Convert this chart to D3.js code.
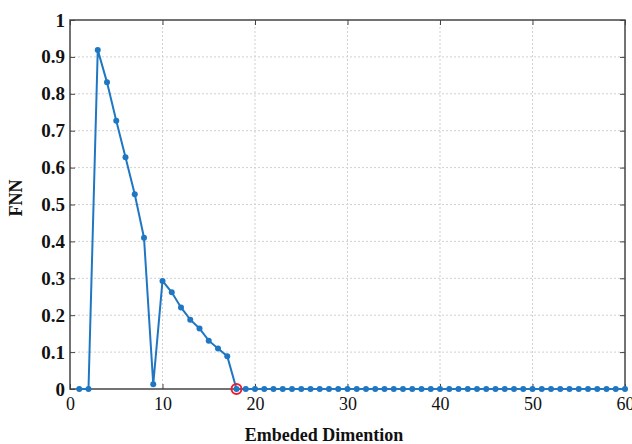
<!DOCTYPE html>
<html>
<head>
<meta charset="utf-8">
<script src="https://cdn.jsdelivr.net/npm/d3@7"></script>
<style>
  body { margin: 0; background: #fff; }
</style>
</head>
<body>
<div id="chart"></div>
<script>
// FNN values for embedding dimensions 1..60
let dims = d3.range(1, 61)
let fnnHead = [0, 0, 0.919, 0.831, 0.727, 0.628, 0.528, 0.41, 0.013, 0.293,
               0.262, 0.221, 0.188, 0.164, 0.131, 0.11, 0.089, 0]
let fnnTail = new Array(42).fill(0)
let fnn = fnnHead.concat(fnnTail)
let chosenDim = 18
let xTicks = [0, 10, 20, 30, 40, 50, 60]
let yTicks = [0, 0.1, 0.2, 0.3, 0.4, 0.5, 0.6, 0.7, 0.8, 0.9, 1]

let width = 632
let height = 444
let margin = {left: 70, top: 20, right: 7, bottom: 55}
let serif = "'Liberation Serif', 'Times New Roman', serif"

const svg = d3.select("#chart")
              .append("svg")
              .attr("width", width)
              .attr("height", height)

let x = d3.scaleLinear().domain([0, 60]).range([margin.left, width - margin.right])
let y = d3.scaleLinear().domain([0, 1]).range([height - margin.bottom, margin.top])

// Dotted grid
svg.append("g")
   .selectAll("line")
   .data(xTicks.slice(1, -1))
   .enter()
   .append("line")
   .attr("x1", d => x(d)).attr("x2", d => x(d))
   .attr("y1", y(0)).attr("y2", y(1))
   .attr("stroke", "#d0d0d0")
   .attr("stroke-dasharray", "2,2")
svg.append("g")
   .selectAll("line")
   .data(yTicks.slice(1, -1))
   .enter()
   .append("line")
   .attr("x1", x(0)).attr("x2", x(60))
   .attr("y1", d => y(d)).attr("y2", d => y(d))
   .attr("stroke", "#d0d0d0")
   .attr("stroke-dasharray", "2,2")

// Axes (ticks inward)
let xAxis = svg.append("g")
   .attr("font-family", serif)
   .attr("transform", `translate(0,${y(0)})`)
   .call(d3.axisBottom(x).tickValues(xTicks).tickSize(-5).tickPadding(8).tickFormat(d3.format("d")))
   .call(g => g.select(".domain").remove())
xAxis.attr("font-family", serif)
xAxis.selectAll("text")
   .attr("font-size", 18)
   .attr("fill", "#111")

let yAxis = svg.append("g")
   .attr("transform", `translate(${x(0)},0)`)
   .call(d3.axisLeft(y).tickValues(yTicks).tickSize(-5).tickPadding(5).tickFormat(d => d === 0 || d === 1 ? d : d3.format(".1f")(d)))
   .call(g => g.select(".domain").remove())
yAxis.attr("font-family", serif)
yAxis.selectAll("text")
   .attr("font-weight", "bold")
   .attr("font-size", 19)
   .attr("fill", "#111")

// top and right ticks
svg.append("g")
   .attr("transform", `translate(0,${y(1)})`)
   .call(d3.axisTop(x).tickValues(xTicks).tickSize(-5).tickFormat(""))
   .call(g => g.select(".domain").remove())
svg.append("g")
   .attr("transform", `translate(${x(60)},0)`)
   .call(d3.axisRight(y).tickValues(yTicks).tickSize(-5).tickFormat(""))
   .call(g => g.select(".domain").remove())
svg.selectAll(".tick line").attr("stroke", "#444")

// Box
svg.append("rect")
   .attr("x", x(0)).attr("y", y(1))
   .attr("width", x(60) - x(0)).attr("height", y(0) - y(1))
   .attr("fill", "none")
   .attr("stroke", "#444")
   .attr("stroke-width", 1.5)

// Line and markers
let line = d3.line().x((d, i) => x(dims[i])).y(d => y(d))
svg.append("path")
   .datum(fnn)
   .attr("d", line)
   .attr("fill", "none")
   .attr("stroke", "#1f77c4")
   .attr("stroke-width", 2)
svg.append("g")
   .selectAll("circle")
   .data(fnn)
   .enter()
   .append("circle")
   .attr("cx", (d, i) => x(dims[i]))
   .attr("cy", d => y(d))
   .attr("r", 3)
   .attr("fill", "#1f77c4")

// Chosen dimension marker
svg.append("circle")
   .attr("cx", x(chosenDim))
   .attr("cy", y(fnn[chosenDim - 1]))
   .attr("r", 5)
   .attr("fill", "none")
   .attr("stroke", "#e8202a")
   .attr("stroke-width", 2)

// Labels
svg.append("text")
   .attr("font-family", serif)
   .attr("font-weight", "bold")
   .attr("font-size", 18)
   .attr("fill", "#111")
   .attr("text-anchor", "middle")
   .attr("x", 324)
   .attr("y", 441)
   .text("Embeded Dimention")
svg.append("text")
   .attr("font-family", serif)
   .attr("font-weight", "bold")
   .attr("font-size", 18)
   .attr("fill", "#111")
   .attr("text-anchor", "middle")
   .attr("transform", `translate(22,198) rotate(-90)`)
   .text("FNN")
</script>
</body>
</html>
